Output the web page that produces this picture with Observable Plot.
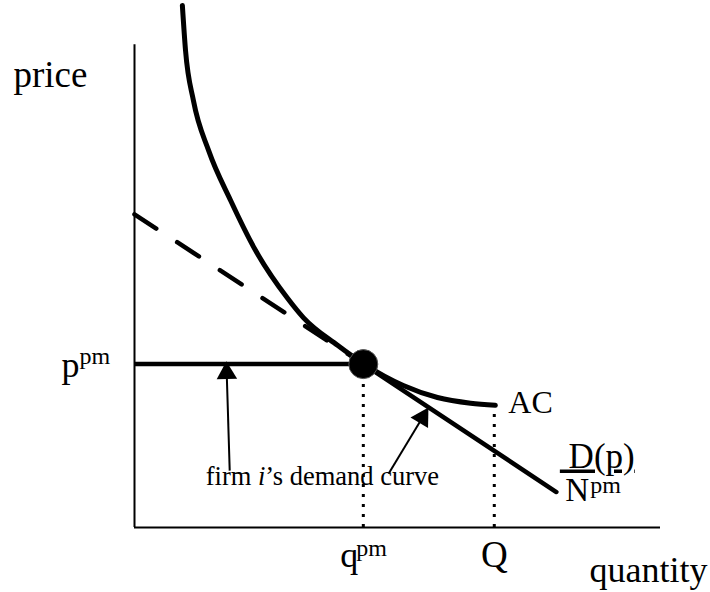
<!DOCTYPE html>
<html>
<head>
<meta charset="utf-8">
<script src="https://cdn.jsdelivr.net/npm/d3@7"></script>
<script src="https://cdn.jsdelivr.net/npm/@observablehq/plot@0.6"></script>
<style>
  html, body { margin: 0; padding: 0; background: #fff; }
  #chart svg { display: block; }
</style>
</head>
<body>
<div id="chart"></div>
<script>
// ---- data (quantity, price units) ----
const acQuantity = [0.91, 0.97, 1.12, 1.41, 1.83, 2.30, 2.91, 3.21, 3.86, 4.35, 5.11, 5.76, 6.39, 6.86];
const acPrice    = [10.0, 9.14, 8.18, 7.22, 6.26, 5.31, 4.39, 4.02, 3.49, 3.14, 2.72, 2.49, 2.38, 2.34];

const demandQuantity = [0, 4.35, 8.02];   // D(p)/N^pm : intercept, tangency, end
const demandPrice    = [6.0, 3.13, 0.68];

const pricePm = 3.13;
const quantityPm = 4.35;
const capacityQ = 6.84;
const capacityTop = 2.30;

const axisQuantityMax = 10;
const axisPriceMax = 9.25;

const arrowTailQuantity = [1.81, 4.83];
const arrowTailPrice    = [1.09, 1.03];
const arrowTipQuantity  = [1.75, 5.53];
const arrowTipPrice     = [3.07, 2.20];

const yLabel = "price";
const xLabel = "quantity";
const acLabel = "AC";
const demandNumerator = "\u00a0D(p)";
const demandDenominator = "N";
const supLabel = "pm";
const pLabel = "p";
const qLabel = "q";
const capLabel = "Q";
const firmParts = ["firm ", "i", "\u2019s demand curve"];
const firmLabel = firmParts.join("");

// ---- tables ----
const ac = acQuantity.map((q, i) => ({q, p: acPrice[i]}));
const dashed = [0, 1].map(i => ({q: demandQuantity[i], p: demandPrice[i]}));
const solid = [1, 2].map(i => ({q: demandQuantity[i], p: demandPrice[i]}));
const arrows = arrowTailQuantity.map((q, i) => ({
  q1: q, p1: arrowTailPrice[i], q2: arrowTipQuantity[i], p2: arrowTipPrice[i]
}));

const xOpt = {domain: [0, 10], range: [134, 660]};
const yOpt = {domain: [0, 10], range: [527, 5]};
const sx = Plot.scale({x: xOpt});
const sy = Plot.scale({y: yOpt});

const headR = 7.6;
const headBack = Math.sqrt(Math.PI * headR * headR / (3 * Math.sqrt(3)));
const heads = arrows.map(a => {
  const x1 = sx.apply(a.q1), y1 = sy.apply(a.p1), x2 = sx.apply(a.q2), y2 = sy.apply(a.p2);
  const len = Math.hypot(x2 - x1, y2 - y1);
  const ux = (x2 - x1) / len, uy = (y2 - y1) / len;
  return {
    q: sx.invert(x2 - ux * headBack),
    p: sy.invert(y2 - uy * headBack),
    angle: Math.atan2(ux, -uy) * 180 / Math.PI
  };
});

const acEnd = ac[ac.length - 1];
const dEnd = solid[solid.length - 1];
const serif = "'Liberation Serif', 'Times New Roman', serif";

const T = (datum, text, o) => Plot.text([datum], {x: "q", y: "p", text: () => text,
  textAnchor: "start", lineAnchor: "bottom", fill: "black", ...o});

const svg = Plot.plot({
  width: 710,
  height: 592,
  margin: 0,
  x: {...xOpt, axis: null},
  y: {...yOpt, axis: null},
  style: {fontFamily: serif, background: "white"},
  marks: [
    // axes
    Plot.ruleX([0], {y1: 0, y2: axisPriceMax, stroke: "black", strokeWidth: 2}),
    Plot.ruleY([0], {x1: 0, x2: axisQuantityMax, stroke: "black", strokeWidth: 2}),
    // dotted drop lines
    Plot.ruleX([quantityPm], {y1: 0, y2: pricePm, stroke: "black", strokeWidth: 3, strokeDasharray: "3,7"}),
    Plot.ruleX([capacityQ], {y1: 0, y2: capacityTop, stroke: "black", strokeWidth: 3, strokeDasharray: "3,7"}),
    // dashed demand segment
    Plot.line(dashed, {x: "q", y: "p", stroke: "black", strokeWidth: 4.5, strokeDasharray: "26,25"}),
    // firm demand: horizontal part
    Plot.ruleY([pricePm], {x1: 0, x2: quantityPm, stroke: "black", strokeWidth: 4.5}),
    // solid demand segment
    Plot.line(solid, {x: "q", y: "p", stroke: "black", strokeWidth: 4.5, strokeLinecap: "round"}),
    // AC curve
    Plot.line(ac, {x: "q", y: "p", curve: "monotone-x", stroke: "black", strokeWidth: 5, strokeLinecap: "round"}),
    // tangency point
    Plot.dot([{q: quantityPm, p: pricePm}], {x: "q", y: "p", r: 14.5, fill: "black", stroke: "#555", strokeWidth: 1}),
    // arrows
    Plot.link(arrows, {x1: "q1", y1: "p1", x2: "q2", y2: "p2", stroke: "black", strokeWidth: 2}),
    Plot.dot(heads, {x: "q", y: "p", symbol: "triangle", r: headR, rotate: "angle", fill: "black", stroke: "none"}),
    // labels
    T({q: 0, p: axisPriceMax}, yLabel, {dx: -121, dy: 42.5, fontSize: 37}),
    T({q: axisQuantityMax, p: 0}, xLabel, {textAnchor: "end", dx: 47, dy: 54.7, fontSize: 36}),
    T({q: 0, p: pricePm}, pLabel, {dx: -73, dy: 13, fontSize: 36}),
    T({q: 0, p: pricePm}, supLabel, {dx: -55, dy: -0.5, fontSize: 24}),
    T({q: quantityPm, p: 0}, qLabel, {dx: -23, dy: 39.7, fontSize: 36}),
    T({q: quantityPm, p: 0}, supLabel, {dx: -7, dy: 28, fontSize: 24}),
    T({q: capacityQ, p: 0}, capLabel, {textAnchor: "middle", dx: 0, dy: 39.7, fontSize: 37}),
    T(acEnd, acLabel, {dx: 13, dy: 8, fontSize: 32}),
    T(dEnd, demandNumerator, {dx: 3.5, dy: -24.5, fontSize: 35}),
    T(dEnd, demandDenominator, {dx: 9, dy: 9, fontSize: 33}),
    T(dEnd, supLabel, {dx: 34, dy: 0.5, fontSize: 24}),
    T({q: arrows[0].q1, p: arrows[0].p1}, firmLabel, {dx: -24, dy: 14, fontSize: 26.5})
  ]
});

// post-process: underline fraction numerator, italic "i"
d3.select(svg).selectAll("text").each(function() {
  const t = d3.select(this);
  if (this.textContent === demandNumerator) {
    t.style("text-decoration", "underline");
  } else if (this.textContent === firmLabel) {
    t.text(null);
    firmParts.forEach((part, i) => {
      const s = t.append("tspan").text(part);
      if (i === 1) s.style("font-style", "italic");
    });
  }
});

document.getElementById("chart").append(svg);
</script>
</body>
</html>
